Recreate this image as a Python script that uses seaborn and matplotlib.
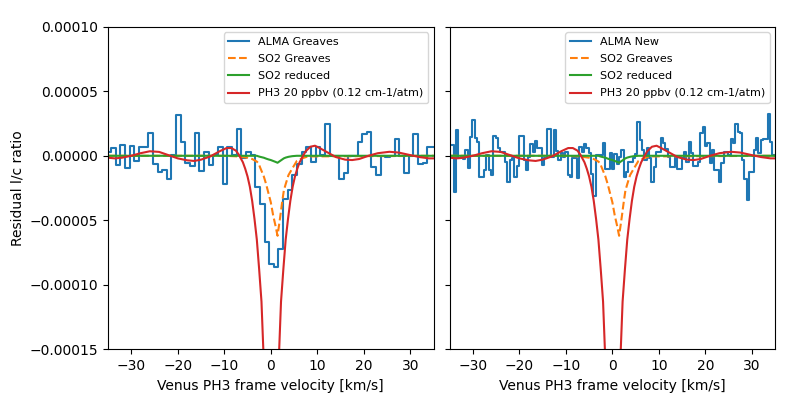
import matplotlib
matplotlib.use("Agg")
import matplotlib.pyplot as plt
import numpy as np
import seaborn as sns

# ALMA spectra (residual l/c ratio in units of 1e-5), channel grids in km/s
v_greaves = np.arange(-1, 71) * 1.0 - 34.85
alma_greaves = [
    0.3, 0.3, 0.57, -0.72, 0.83, -0.98, 0.78, -0.39, 0.65, 0.65,
    1.74, -0.6, -1.24, -1.1, -1.83, 0.05, 3.15, 1.09, -0.59, -0.8,
    1.74, -1.19, 0.31, -0.72, 0.05, 0.7, -2.19, 0.7, 0.05, 2.05,
    -0.2, 0.31, 0.05, -2.4, -3.7, -6.7, -8.35, -8.6, -7.25, -3.35,
    -2.66, -1.5, -0.6, 0.31, 0.7, -0.5, 0.7, 0.05, 2.43, 0.0,
    0.0, -1.81, -1.32, 0.0, 0.0, 1.09, 1.68, 1.81, -0.9, -1.5,
    0.0, -0.1, 0.0, 1.27, 0.0, -1.37, 0.0, 1.68, -0.64, -0.54,
    0.7, 0.7,
]

v_new = np.arange(-1, 141) * 0.5 - 34.85
alma_new = [
    0.8, 0.8, 0.8, -2.84, 2.0, -0.2, -0.07, -0.28, 0.44, -0.98,
    1.47, 2.77, 1.35, 1.09, -1.62, -1.62, -1.11, 0.06, -1.11, -1.5,
    1.55, 1.35, 0.57, 0.3, 0.3, -0.46, -2.06, -0.33, -0.2, -1.62,
    -0.77, 1.55, 1.55, -0.33, -1.11, -0.07, 0.88, 0.3, 1.14, 0.57,
    0.57, -0.72, -0.2, 2.07, 2.07, -0.07, 1.99, 0.4, -0.3, 0.2,
    -0.1, 0.3, -1.5, -1.62, -0.2, -0.2, -1.7, 0.7, 0.31, 0.88,
    0.57, 0.18, -1.44, -3.1, 0.06, 0.05, 0.05, 0.96, -1.0, -1.0,
    0.18, -1.06, 0.13, -0.64, -0.07, 0.44, -1.62, -1.24, -0.46, -0.46,
    -0.2, 0.13, 2.64, 1.22, 0.44, -0.33, 0.57, -0.2, -2.0, -0.85,
    0.31, 0.31, 1.34, 0.96, 0.5, -0.07, -0.85, -0.85, 0.0, -1.0,
    -1.0, -0.2, 0.31, -0.46, 1.09, 0.18, -0.8, -0.8, -0.46, 1.73,
    2.25, 0.75, 0.96, -0.59, 0.44, -1.11, -1.11, -2.0, -0.59, 0.31,
    0.31, 0.05, 1.27, 0.96, 2.46, 1.86, 1.73, -0.33, -1.83, -3.43,
    -1.24, -1.24, 0.44, 1.34, 0.18, 1.22, 1.27, 1.27, 3.23, 1.09,
    0.05, 0.05,
]

# model curves (same units)
v_ph3 = [-35, -33.5, -32, -30, -28, -26, -24, -22, -20, -18, -16.5, -15, -13, -11,
         -9.5, -8.5, -7.5, -6.9, -6, -5.5, -5, -4.5, -4, -3.5, -3, -2.5, -2, -1.5,
         -1, -0.5, 0.1, 0.7, 1.2, 1.7, 2.2, 2.7, 3.2, 3.7, 4.2, 4.7, 5.2, 5.7, 6.2,
         7.1, 7.5, 8.5, 9.5, 10.5, 12, 14, 16, 17.5, 19, 21, 23, 25.5, 27.5, 30,
         32, 34, 35]
ph3_model = [-0.15, -0.2, -0.15, 0.0, 0.2, 0.35, 0.3, 0.05, -0.2, -0.35, -0.4, -0.3,
             -0.05, 0.35, 0.6, 0.6, 0.4, 0.1, -0.5, -1.0, -1.6, -2.4, -3.5, -4.9,
             -6.5, -8.8, -11.3, -16, -23, -31, -37, -31, -23, -16, -11.3, -8.8, -6.5,
             -4.9, -3.5, -2.4, -1.6, -1.0, -0.5, 0.1, 0.35, 0.7, 0.78, 0.6, 0.3,
             -0.1, -0.3, -0.33, -0.25, 0.0, 0.2, 0.31, 0.25, 0.05, -0.1, -0.2, -0.2]

v_so2 = [-35, -10, -7, -5, -4, -3, -2.6, -2.3, -1.5, -1.0, -0.5, 0.0, 0.5, 1.0,
         1.45, 2.0, 2.4, 2.8, 3.2, 3.8, 4.6, 5.6, 6.7, 8, 35]
so2_greaves = [0, 0, -0.05, -0.15, -0.25, -0.45, -0.6, -0.9, -1.6, -2.2, -2.9, -3.6,
               -4.6, -5.4, -6.2, -4.8, -3.7, -2.7, -2.2, -1.5, -1.0, -0.4, -0.2,
               -0.05, 0]
so2_reduced = [0, 0, 0, 0, 0, 0, -0.05, -0.08, -0.15, -0.22, -0.28, -0.33, -0.4,
               -0.47, -0.54, -0.4, -0.3, -0.2, -0.14, -0.08, -0.03, 0, 0, 0, 0]

scale = 1e-5

fig, axes = plt.subplots(1, 2, figsize=(7.91, 3.93), dpi=100, sharey=True)
fig.subplots_adjust(left=0.1365, right=0.98, bottom=0.111, top=0.932, wspace=0.049)

panels = [(axes[0], v_greaves, alma_greaves, "ALMA Greaves"),
          (axes[1], v_new, alma_new, "ALMA New")]

for ax, v, data, name in panels:
    sns.lineplot(x=v, y=np.array(data) * scale, ax=ax, drawstyle="steps-mid",
                 color="#1f77b4", label=name, estimator=None)
    sns.lineplot(x=v_so2, y=np.array(so2_greaves) * scale, ax=ax, color="#ff7f0e",
                 linestyle="--", label="SO2 Greaves", estimator=None)
    sns.lineplot(x=v_so2, y=np.array(so2_reduced) * scale, ax=ax, color="#2ca02c",
                 label="SO2 reduced", estimator=None)
    sns.lineplot(x=v_ph3, y=np.array(ph3_model) * scale, ax=ax, color="#d62728",
                 label="PH3 20 ppbv (0.12 cm-1/atm)", estimator=None)
    ax.set_xlim(-35, 35)
    ax.set_ylim(-0.00015, 0.0001)
    ax.set_xlabel("Venus PH3 frame velocity [km/s]")
    ax.legend(loc="upper right", fontsize=8, labelspacing=0.65, handlelength=1.9)

axes[0].set_ylabel("Residual l/c ratio")
axes[1].set_ylabel("")

plt.savefig("out.png", dpi=100)
